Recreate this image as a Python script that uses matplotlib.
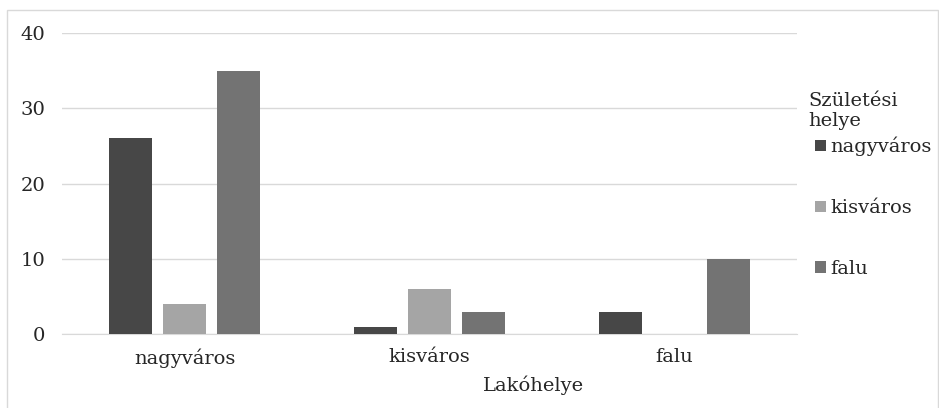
import matplotlib.pyplot as plt
import numpy as np
from matplotlib.patches import Rectangle

categories = ["nagyváros", "kisváros", "falu"]
series_names = ["nagyváros", "kisváros", "falu"]
nagyvaros = [26, 1, 3]
kisvaros = [4, 6, 0]
falu = [35, 3, 10]
yticks = [0, 10, 20, 30, 40]

colors = ["#474747", "#a5a5a5", "#737373"]
text_color = "#262626"
plt.rcParams['font.family'] = ['DejaVu Serif']
fs = 14

fig = plt.figure(figsize=(9.39, 4.08), dpi=100)
ax = fig.add_axes([0.066, 0.181, 0.783, 0.738])

x = np.arange(len(categories))
w = 0.176
step = 0.22
for i, (vals, name) in enumerate(zip([nagyvaros, kisvaros, falu], series_names)):
    ax.bar(x + (i - 1) * step, vals, width=w, color=colors[i], label=name, zorder=3)

ax.set_xlim(-0.5, 2.5)
ax.set_ylim(0, 40)
ax.set_yticks(yticks)
ax.set_xticks(x)
ax.set_xticklabels(categories, fontsize=fs, color=text_color)
ax.tick_params(axis='y', labelsize=fs, labelcolor=text_color, length=0, pad=12)
ax.tick_params(axis='x', length=0, pad=10)
ax.grid(axis='y', color="#d9d9d9", linewidth=1, zorder=0)
for s in ["top", "right", "left"]:
    ax.spines[s].set_visible(False)
ax.spines["bottom"].set_color("#d9d9d9")
ax.set_xlabel("Lakóhelye", fontsize=fs, color=text_color, labelpad=6)
ax.xaxis.label.set_x(0.641)

fig.text(808 / 939, 1 - 111 / 408, "Születési\nhelye", fontsize=fs, color=text_color,
         ha="left", va="center", linespacing=1.2)
leg = fig.legend(loc="upper left", bbox_to_anchor=(815 / 939, 1 - 137 / 408), frameon=False,
                 fontsize=fs, handlelength=0.55, handleheight=0.55, handletextpad=0.25,
                 labelspacing=2.2, borderpad=0, borderaxespad=0)
for t in leg.get_texts():
    t.set_color(text_color)

fig.patches.append(Rectangle((7 / 939, -2 / 408), 931 / 939, 400 / 408,
                             transform=fig.transFigure, fill=False,
                             edgecolor="#d9d9d9", linewidth=1))

fig.savefig("out.png", dpi=100, facecolor="white")
